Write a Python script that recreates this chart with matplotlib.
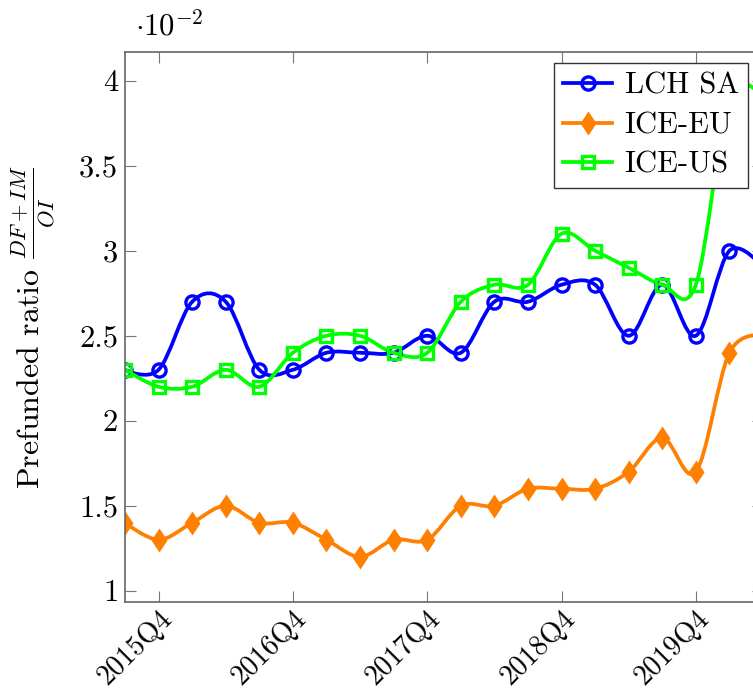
import numpy as np
import matplotlib
matplotlib.use("Agg")
import matplotlib.pyplot as plt
from matplotlib.path import Path
from matplotlib.patches import PathPatch
from matplotlib.lines import Line2D

plt.rcParams['font.family'] = ['cmr10', 'DejaVu Serif']
plt.rcParams['mathtext.fontset'] = 'cm'
plt.rcParams['axes.unicode_minus'] = False

quarters = ['2015Q3', '2015Q4', '2016Q1', '2016Q2', '2016Q3', '2016Q4', '2017Q1', '2017Q2',
            '2017Q3', '2017Q4', '2018Q1', '2018Q2', '2018Q3', '2018Q4', '2019Q1', '2019Q2',
            '2019Q3', '2019Q4', '2020Q1', '2020Q2']
lch_sa = [2.3, 2.3, 2.7, 2.7, 2.3, 2.3, 2.4, 2.4, 2.4, 2.5, 2.4, 2.7, 2.7, 2.8, 2.8, 2.5, 2.8, 2.5, 3.0, 2.9]
ice_eu = [1.4, 1.3, 1.4, 1.5, 1.4, 1.4, 1.3, 1.2, 1.3, 1.3, 1.5, 1.5, 1.6, 1.6, 1.6, 1.7, 1.9, 1.7, 2.4, 2.5]
ice_us = [2.3, 2.2, 2.2, 2.3, 2.2, 2.4, 2.5, 2.5, 2.4, 2.4, 2.7, 2.8, 2.8, 3.1, 3.0, 2.9, 2.8, 2.8, 3.9, 3.9]
xtick_labels = ['2015Q4', '2016Q4', '2017Q4', '2018Q4', '2019Q4']
ytick_values = [1, 1.5, 2, 2.5, 3, 3.5, 4]
ytick_labels = ['1', '1.5', '2', '2.5', '3', '3.5', '4']

W, H = 753, 691
fig = plt.figure(figsize=(W / 100, H / 100), dpi=100)
ax = fig.add_axes([125 / W, 1 - 602 / H, (763 - 125) / W, (602 - 52) / H])

def smooth_path(xs, ys, k=1 / 6):
    pts = np.column_stack([xs, ys]).astype(float)
    n = len(pts)
    verts = [pts[0]]
    codes = [Path.MOVETO]
    for i in range(n - 1):
        p0 = pts[i - 1] if i > 0 else None
        p1 = pts[i]
        p2 = pts[i + 1]
        p3 = pts[i + 2] if i + 2 < n else None
        c1 = p1 + k * (p2 - p0) if p0 is not None else p1
        c2 = p2 - k * (p3 - p1) if p3 is not None else p2
        verts += [c1, c2, p2]
        codes += [Path.CURVE4] * 3
    return Path(verts, codes)

x = np.arange(len(quarters))
series = [
    ('LCH SA', lch_sa, '#0000FF', 'o', 9.5, 'none'),
    ('ICE-EU', ice_eu, '#FF8000', 'd', 9.5, '#FF8000'),
    ('ICE-US', ice_us, '#00FF00', 's', 9, 'none'),
]
handles = []
lw = 2.7
for name, vals, col, mk, ms, fc in series:
    patch = PathPatch(smooth_path(x, vals), facecolor='none', edgecolor=col, lw=lw,
                      capstyle='round', joinstyle='round')
    ax.add_patch(patch)
    ax.plot(x, vals, linestyle='none', marker=mk, markersize=ms, markerfacecolor=fc,
            markeredgecolor=col, markeredgewidth=2.4)
    handles.append(Line2D([], [], color=col, lw=lw, marker=mk, markersize=ms,
                          markerfacecolor=fc, markeredgecolor=col, markeredgewidth=2.4))

ax.set_xlim(0, len(quarters) - 1)
ax.set_ylim(0.934, 4.169)
ax.set_xticks([quarters.index(q) for q in xtick_labels])
ax.set_xticklabels(xtick_labels, rotation=45, ha='right', rotation_mode='anchor')
ax.set_yticks(ytick_values)
ax.set_yticklabels(ytick_labels)
ax.tick_params(direction='in', length=8, width=0.8, color='#777777', labelsize=22,
               top=True, right=True, pad=5)
ax.tick_params(axis='x', labelsize=20.5, pad=2)
for s in ax.spines.values():
    s.set_color('#666666')
    s.set_linewidth(1.2)

ax.set_ylabel(r'Prefunded ratio $\frac{DF+IM}{OI}$', fontsize=23)
ax.yaxis.set_label_coords(-0.107, 0.5)

fig.text(135 / W, 1 - 26 / H, r'$\cdot 10^{-2}$', fontsize=22, ha='left', va='center')

leg = fig.legend(handles, ['LCH SA', 'ICE-EU', 'ICE-US'], loc='upper right',
                 bbox_to_anchor=(748 / W, 1 - 63 / H), bbox_transform=fig.transFigure,
                 fontsize=22, frameon=True, fancybox=False, borderaxespad=0, framealpha=1,
                 handlelength=1.6, handletextpad=0.4, borderpad=0.3, labelspacing=0.4)
leg.get_frame().set_edgecolor('#333333')
leg.get_frame().set_linewidth(1.0)

fig.savefig('out.png', dpi=100)
